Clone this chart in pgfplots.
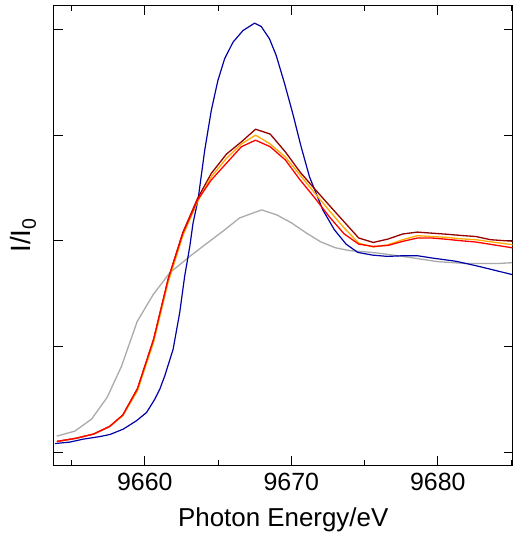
\documentclass[border=0pt]{standalone}
\usepackage{fontspec}
\setmainfont{Liberation Sans}
\usepackage{pgfplots}
\pgfplotsset{compat=1.18}
\definecolor{cblue}{RGB}{0,0,165}
\definecolor{cdred}{RGB}{150,0,0}
\definecolor{corange}{RGB}{255,170,0}
\definecolor{cred}{RGB}{255,0,0}
\definecolor{cgray}{RGB}{170,170,170}
\begin{document}
\begin{tikzpicture}
\begin{axis}[
    scale only axis,
    width=458.5bp, height=459.3bp,
    xmin=9653.8, xmax=9685.1,
    ymin=-0.0615, ymax=2.1127,
    xtick={9660,9670,9680},
    minor xtick={9655,9665,9675,9685},
    ytick={0,0.5,1,1.5,2},
    yticklabels={},
    tick pos=both,
    tick align=inside,
    major tick length=9bp,
    minor tick length=5bp,
    every tick/.style={black, line width=0.9bp},
    axis line style={black, line width=1bp},
    /pgf/number format/assume math mode=true,
    /pgf/number format/set thousands separator={},
    xticklabel style={font=\fontsize{25}{30}\selectfont, yshift=-5bp},
    xlabel={Photon Energy/eV},
    xlabel style={font=\fontsize{26}{30}\selectfont, at={(axis description cs:0.5,-0.1343)}, anchor=base},
    ylabel={I/I\textsubscript{0}},
    ylabel style={font=\fontsize{28}{32}\selectfont, at={(axis description cs:-0.0508,0.5)}, anchor=base},
    every axis plot/.append style={line width=1.3bp, line join=round},
]
% gray
\addplot[cgray] coordinates {
(9653.99,0.075) (9655.23,0.099) (9656.37,0.156) (9657.43,0.259) (9658.41,0.406)
(9659.48,0.618) (9660.57,0.745) (9661.70,0.848) (9663.07,0.926) (9663.95,0.973)
(9665.31,1.044) (9666.47,1.108) (9667.97,1.146) (9668.99,1.123) (9670.0,1.085)
(9671.0,1.038) (9672.0,0.995) (9673.0,0.967) (9674.0,0.953) (9675.0,0.948)
(9676.0,0.941) (9678.0,0.922) (9680.0,0.901) (9682.0,0.892) (9684.0,0.892)
(9685.07,0.896)
};
% blue
\addplot[cblue, line width=1.2bp] coordinates {
(9653.87,0.040) (9654.89,0.047) (9655.80,0.061) (9656.93,0.073) (9657.62,0.083)
(9658.52,0.108) (9659.43,0.148) (9660.12,0.187) (9660.68,0.250) (9661.02,0.297)
(9661.36,0.360) (9661.93,0.486) (9662.38,0.659) (9662.72,0.832) (9663.07,0.973)
(9663.29,1.083) (9663.63,1.193) (9664.09,1.429) (9664.54,1.618) (9664.99,1.759)
(9665.45,1.862) (9666.02,1.940) (9666.70,1.995) (9667.49,2.030) (9667.95,2.014)
(9668.51,1.956) (9668.97,1.877) (9669.54,1.744) (9670.10,1.602) (9670.67,1.445)
(9671.24,1.303) (9672.15,1.146) (9672.94,1.052) (9673.74,0.984) (9674.53,0.945)
(9675.55,0.932) (9676.57,0.926) (9677.60,0.929) (9678.62,0.929) (9679.64,0.918)
(9681.23,0.903) (9682.60,0.882) (9683.73,0.863) (9685.07,0.840)
};
% dark red
\addplot[cdred] coordinates {
(9654.0,0.050) (9655.3,0.065) (9656.5,0.085) (9657.6,0.121) (9658.5,0.175)
(9659.5,0.300) (9660.6,0.533) (9661.6,0.820) (9662.6,1.040) (9663.6,1.200)
(9664.54,1.319) (9665.57,1.410) (9666.59,1.468) (9667.56,1.528) (9668.56,1.505)
(9669.6,1.420) (9670.6,1.325) (9671.6,1.245) (9672.6,1.167) (9673.6,1.090)
(9674.6,1.013) (9675.6,0.992) (9676.6,1.008) (9677.6,1.032) (9678.6,1.041)
(9679.6,1.036) (9680.6,1.031) (9681.6,1.025) (9682.6,1.020) (9683.6,1.005)
(9684.6,1.000) (9685.6,0.996)
};
% orange
\addplot[corange] coordinates {
(9654.0,0.050) (9655.3,0.065) (9656.5,0.085) (9657.6,0.121) (9658.5,0.172)
(9659.5,0.290) (9660.6,0.520) (9661.6,0.805) (9662.6,1.025) (9663.6,1.185)
(9664.54,1.303) (9665.57,1.390) (9666.59,1.458) (9667.56,1.500) (9668.56,1.458)
(9669.6,1.396) (9670.6,1.311) (9671.6,1.226) (9672.6,1.142) (9673.6,1.061)
(9674.6,0.989) (9675.6,0.970) (9676.6,0.981) (9677.6,1.005) (9678.6,1.024)
(9679.6,1.020) (9680.6,1.016) (9681.6,1.009) (9682.6,1.005) (9683.6,0.995)
(9684.6,0.986) (9685.6,0.976)
};
% red
\addplot[cred] coordinates {
(9654.0,0.050) (9655.3,0.065) (9656.5,0.085) (9657.6,0.121) (9658.5,0.175)
(9659.5,0.300) (9660.6,0.533) (9661.6,0.820) (9662.6,1.036) (9663.6,1.193)
(9664.54,1.288) (9665.57,1.367) (9666.59,1.445) (9667.56,1.476) (9668.56,1.445)
(9669.6,1.382) (9670.6,1.288) (9671.6,1.203) (9672.6,1.113) (9673.6,1.033)
(9674.6,0.984) (9675.6,0.973) (9676.6,0.978) (9677.6,0.997) (9678.6,1.013)
(9679.6,1.013) (9680.6,1.007) (9681.6,1.000) (9682.6,0.994) (9683.6,0.983)
(9684.6,0.972) (9685.6,0.961)
};
\end{axis}
\pgfresetboundingbox
\path (current axis.south west) ++(-54bp,-68bp) rectangle ([shift={(2.5bp,5.7bp)}]current axis.north east);
\end{tikzpicture}
\end{document}
